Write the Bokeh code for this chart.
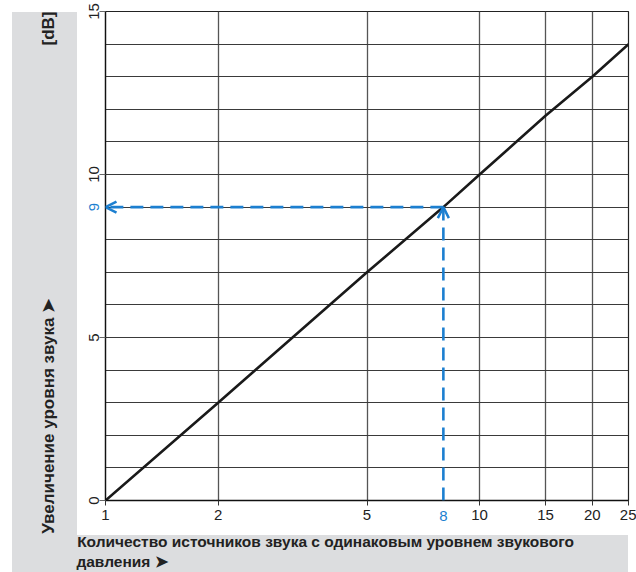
import math
from bokeh.plotting import figure
from bokeh.models import FixedTicker, LinearAxis, LogAxis, Arrow, OpenHead
from bokeh.embed import file_html
from bokeh.resources import INLINE

# ---- data ----
sources_n = [1, 2, 5, 8, 10, 15, 20, 25]
level_db = [0, 3, 7, 9, 10, 11.8, 13, 14]
x_tick_values = [1, 2, 5, 10, 15, 20, 25]
x_grid_values = [2, 5, 10, 15, 20]
y_tick_values = [0, 5, 10, 15]
y_grid_values = list(range(0, 16))
marked_n = 8
marked_db = 9
x_min, x_max = 1, 25
y_min, y_max = 0, 15

x_title_1 = "Количество источников звука с одинаковым уровнем звукового"
x_title_2 = "давления    ➤"
y_title = "Увеличение уровня звука      ➤"
y_unit = "[dB]"

FONT = "Liberation Sans"
BLUE = "#1c7fd0"
GRAY_BAND = "#dcdddf"
TXT = "#222222"

W, H = 636, 572
FL, FR, FT, FB = 105, 628, 11, 500  # frame edges on the canvas

p = figure(width=W, height=H, x_axis_type="log", x_range=(x_min, x_max), y_range=(y_min, y_max),
           output_backend="svg", toolbar_location=None,
           min_border_left=FL, min_border_right=W - FR, min_border_top=FT, min_border_bottom=H - FB)
p.background_fill_color = "white"
p.border_fill_alpha = 0
p.outline_line_color = "#222222"
p.outline_line_width = 1.2

# gray side bands painted behind the (transparent) border area
g = f"linear-gradient({GRAY_BAND}, {GRAY_BAND})"
p.styles = {
    "background-color": "white",
    "background-image": f"{g}, {g}",
    "background-position": "12px 12px, 77px 535px",
    "background-size": "65px 560px, 551px 37px",
    "background-repeat": "no-repeat",
}


def x_at(X):  # canvas pixel -> x position on the log axis (for placing titles)
    lo, hi = math.log10(x_min), math.log10(x_max)
    return round(10 ** (lo + (X - FL) / (FR - FL) * (hi - lo)), 4)


def y_at(Y):  # canvas pixel -> y position on the axis (for placing titles)
    return round(y_min + (FB - Y) / (FB - FT) * (y_max - y_min), 4)


def bare(axis):
    axis.axis_line_color = None
    axis.major_tick_line_color = None
    axis.minor_tick_line_color = None
    axis.major_tick_in = 0
    axis.major_tick_out = 0


# grids
p.xgrid.ticker = FixedTicker(ticks=x_grid_values)
p.ygrid.ticker = FixedTicker(ticks=y_grid_values)
p.xgrid.grid_line_color = "#555555"
p.xgrid.grid_line_width = 1.3
p.ygrid.grid_line_color = "#3a3a3a"
p.ygrid.grid_line_width = 1.1

# main axes
xa = p.xaxis[0]
xa.ticker = FixedTicker(ticks=x_tick_values)
xa.major_label_overrides = {v: str(v) for v in x_tick_values}
xa.minor_tick_line_color = None
xa.major_tick_in = 0
xa.major_tick_out = 5
xa.major_tick_line_color = "#333333"
xa.axis_line_color = "#111111"
xa.axis_line_width = 1.3
xa.major_label_standoff = 4
xa.major_label_text_font = FONT
xa.major_label_text_font_size = "15px"
xa.major_label_text_color = TXT

ya = p.yaxis[0]
ya.ticker = FixedTicker(ticks=y_tick_values)
ya.minor_tick_line_color = None
ya.major_tick_in = 0
ya.major_tick_out = 6
ya.major_tick_line_color = "#666666"
ya.axis_line_color = "#111111"
ya.axis_line_width = 1.3
ya.major_label_orientation = "vertical"
ya.major_label_standoff = 1
ya.major_label_text_font = FONT
ya.major_label_text_font_size = "15px"
ya.major_label_text_color = TXT

# blue highlighted tick labels (stacked axes pulled back onto the tick-label row)
ax8 = LogAxis(ticker=FixedTicker(ticks=[marked_n]), major_label_overrides={marked_n: str(marked_n)})
bare(ax8)
ax8.major_label_standoff = -12
ax8.major_label_text_font = FONT
ax8.major_label_text_font_size = "15px"
ax8.major_label_text_color = BLUE
p.add_layout(ax8, "below")

ax9 = LinearAxis(ticker=FixedTicker(ticks=[marked_db]), major_label_overrides={marked_db: str(marked_db)})
bare(ax9)
ax9.major_label_orientation = "vertical"
ax9.major_label_standoff = -14
ax9.major_label_text_font = FONT
ax9.major_label_text_font_size = "15px"
ax9.major_label_text_color = BLUE
p.add_layout(ax9, "left")

# y title and unit
ty_title, ty_unit = y_at(404), y_at(28)
ayt = LinearAxis(ticker=FixedTicker(ticks=[ty_title, ty_unit]),
                 major_label_overrides={ty_title: y_title, ty_unit: y_unit})
bare(ayt)
ayt.major_label_orientation = "vertical"
ayt.major_label_standoff = 27
ayt.major_label_text_font = FONT
ayt.major_label_text_font_size = "17px"
ayt.major_label_text_font_style = "bold"
ayt.major_label_text_color = TXT
p.add_layout(ayt, "left")

# x title, two lines
tx1 = x_at(77 + 248)
ax1 = LogAxis(ticker=FixedTicker(ticks=[tx1]), major_label_overrides={tx1: x_title_1})
bare(ax1)
ax1.major_label_standoff = 9
ax1.major_label_text_font = FONT
ax1.major_label_text_font_size = "15.5px"
ax1.major_label_text_font_style = "bold"
ax1.major_label_text_color = TXT
p.add_layout(ax1, "below")

tx2 = x_at(77 + 51)
ax2 = LogAxis(ticker=FixedTicker(ticks=[tx2]), major_label_overrides={tx2: x_title_2})
bare(ax2)
ax2.major_label_standoff = 0
ax2.major_label_text_font = FONT
ax2.major_label_text_font_size = "15.5px"
ax2.major_label_text_font_style = "bold"
ax2.major_label_text_color = TXT
p.add_layout(ax2, "below")

# main line
p.line(sources_n, level_db, line_color="#1a1a1a", line_width=2.6)

# blue dashed guides with arrows
p.add_layout(Arrow(end=OpenHead(size=11, line_color=BLUE, line_width=2.5),
                   x_start=marked_n, y_start=0, x_end=marked_n, y_end=marked_db,
                   line_color=BLUE, line_width=2.6, line_dash="13 7"))
p.add_layout(Arrow(end=OpenHead(size=11, line_color=BLUE, line_width=2.5),
                   x_start=marked_n, y_start=marked_db, x_end=1, y_end=marked_db,
                   line_color=BLUE, line_width=2.6, line_dash="13 7"))

open("out.html", "w").write(file_html(p, INLINE))
